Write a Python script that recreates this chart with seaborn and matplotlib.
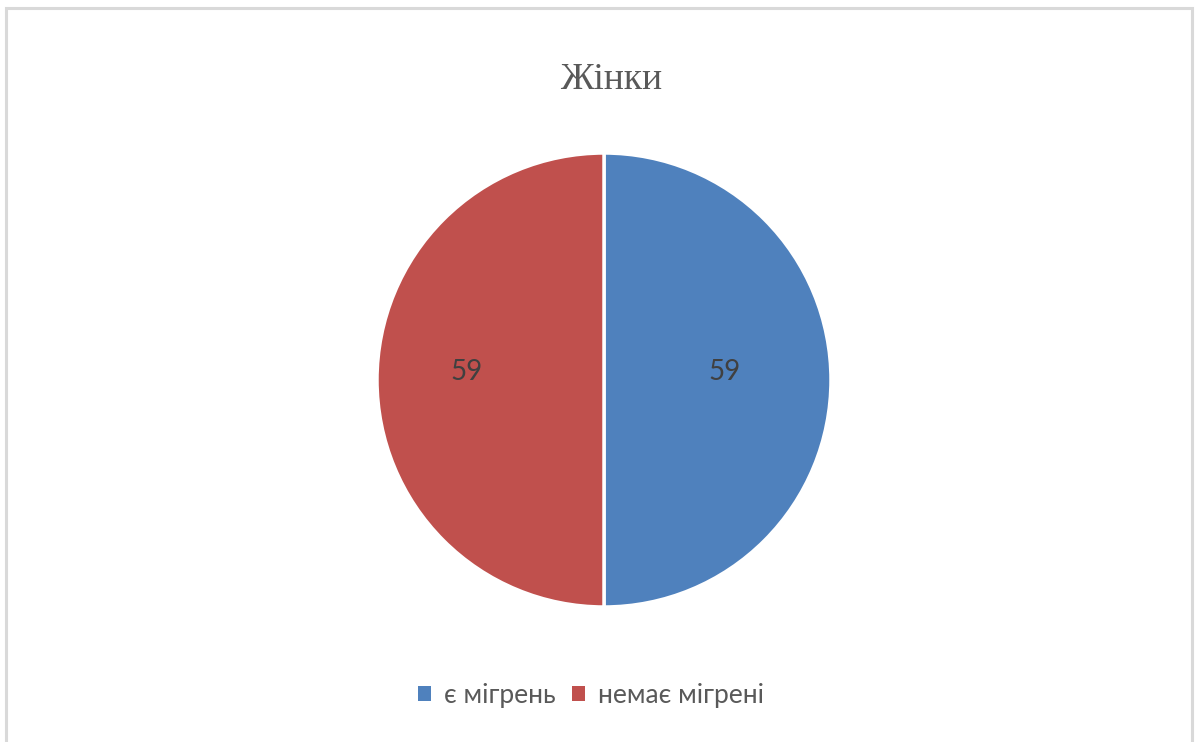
import matplotlib
matplotlib.use("Agg")
import matplotlib.pyplot as plt
import seaborn as sns
from matplotlib.patches import Rectangle

sns.set_theme(style="white")
plt.rcParams["font.family"] = ["Lato", "DejaVu Sans"]

# Data
categories = ["є мігрень", "немає мігрені"]
values = [59, 59]
colors = ["#4F81BD", "#C0504D"]
title = "Жінки"

W, H = 1195, 742
fig = plt.figure(figsize=(W / 100, H / 100), dpi=100)
fig.patch.set_facecolor("white")

# Chart frame (light grey border, open at the bottom)
frame = Rectangle((6 / W, -0.05), (1192 - 6) / W, 1.05 - 8 / H,
                  transform=fig.transFigure, fill=False,
                  edgecolor="#D9D9D9", linewidth=2.2, zorder=0)
fig.patches.append(frame)

# Pie axes: centre (604, 380), radius ~227 px
cx, cy, r = 604, 380, 227
ax = fig.add_axes([(cx - r) / W, 1 - (cy + r) / H, 2 * r / W, 2 * r / H])
wedges, texts = ax.pie(
    values,
    colors=colors,
    startangle=90,
    counterclock=False,
    labels=[str(v) for v in values],
    labeldistance=0.53,
    radius=1.0,
    wedgeprops=dict(edgecolor="white", linewidth=2.5),
    textprops=dict(fontsize=20, color="#404040"),
)
# nudge data labels slightly upward; the left one sits a bit further out
offsets = [(0.0, 0.035), (-0.075, 0.035)]
for t, (dx, dy) in zip(texts, offsets):
    x, y = t.get_position()
    t.set_position((x + dx, y + dy))
    t.set_ha("center")
    t.set_va("center")
ax.set_xlim(-1.0, 1.0)
ax.set_ylim(-1.0, 1.0)
ax.set_aspect("equal")
ax.axis("off")

# Title
fig.text(611 / W, 1 - 80 / H, title, ha="center", va="center",
         fontsize=27, color="#595959", family=["Liberation Serif", "DejaVu Serif"])

# Legend
handles = [Rectangle((0, 0), 1, 1, facecolor=c, edgecolor="none") for c in colors]
leg = fig.legend(handles, categories, loc="center", bbox_to_anchor=(591 / W, 1 - 695 / H),
                 ncol=2, frameon=False, fontsize=19, handlelength=0.5, handleheight=0.5,
                 handletextpad=0.5, columnspacing=0.6, labelcolor="#595959")

fig.savefig("out.png", dpi=100, facecolor="white")
